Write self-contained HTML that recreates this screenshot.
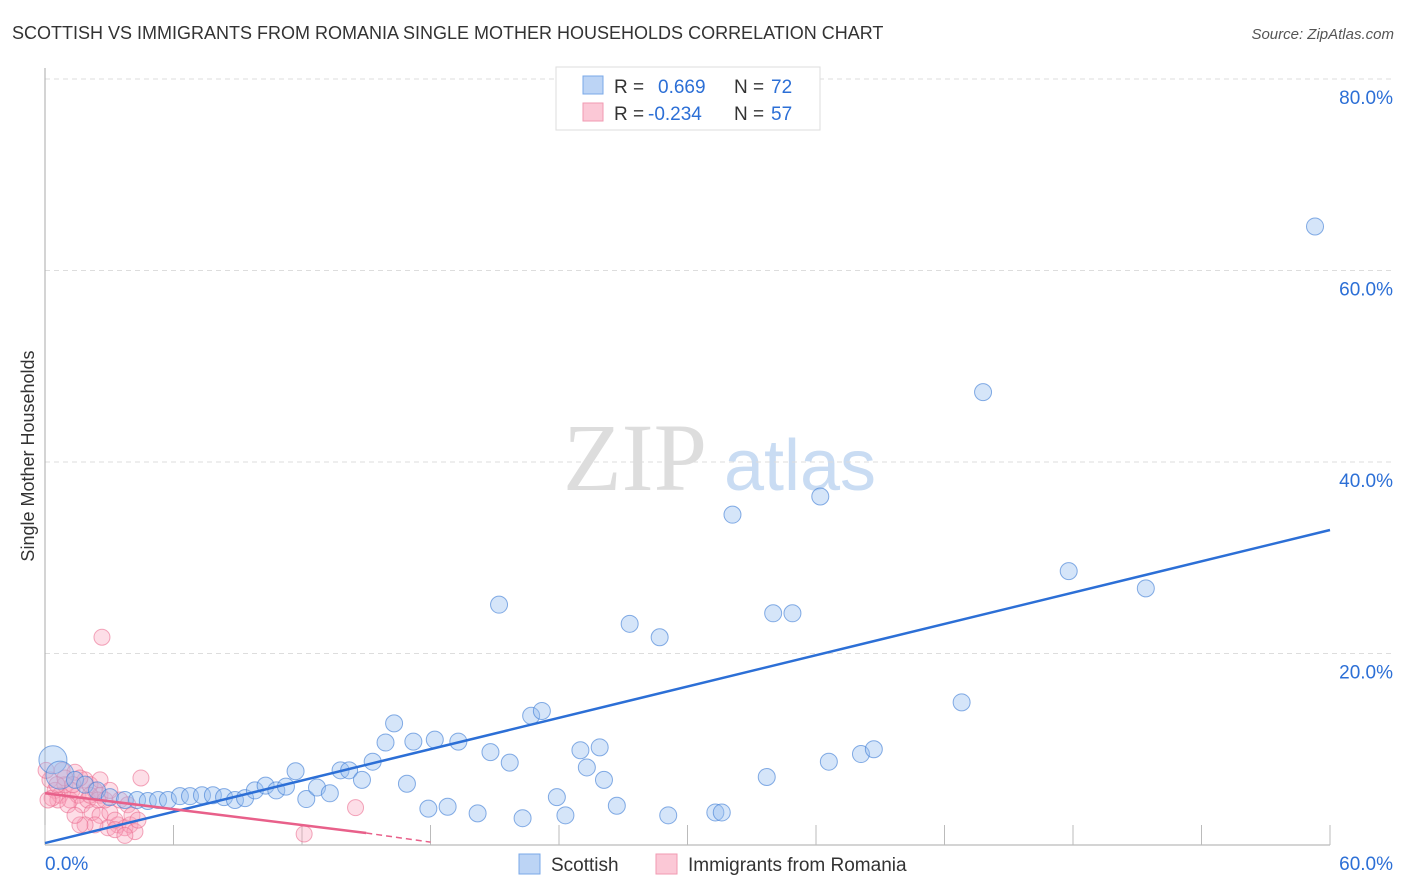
<!DOCTYPE html>
<html><head><meta charset="utf-8"><style>
body{margin:0;background:#fff;font-family:"Liberation Sans",sans-serif;}
#wrap{position:relative;width:1406px;height:892px;overflow:hidden;}
</style></head><body>
<div id="wrap">
<svg id="svg" width="1406" height="892" xmlns="http://www.w3.org/2000/svg">
<text x="12" y="39" font-size="18" fill="#333">SCOTTISH VS IMMIGRANTS FROM ROMANIA SINGLE MOTHER HOUSEHOLDS CORRELATION CHART</text>
<text x="1394" y="39" font-size="15" fill="#555" font-style="italic" text-anchor="end">Source: ZipAtlas.com</text>
<text x="34" y="456" font-size="18" fill="#333" text-anchor="middle" transform="rotate(-90 34 456)">Single Mother Households</text>
<g><text x="635" y="490" font-size="96" fill="#ddd" font-family="Liberation Serif,serif" text-anchor="middle">ZIP</text><text x="800" y="490" font-size="72" fill="#c9dcf3" text-anchor="middle">atlas</text></g>
<g id="grid"></g><g id="axes"></g><g id="marks"></g>
<g>
<rect x="556" y="67" width="264" height="63" fill="#fff" stroke="#ddd"/>
<rect x="583" y="76" width="20" height="18" fill="#bcd4f5" stroke="#7aa8e8"/>
<rect x="583" y="103" width="20" height="18" fill="#fbc8d6" stroke="#f09ab2"/>
<text x="614" y="93" font-size="19" fill="#333">R =</text><text x="658" y="93" font-size="19" fill="#2c6fd6">0.669</text>
<text x="734" y="93" font-size="19" fill="#333">N =</text><text x="771" y="93" font-size="19" fill="#2c6fd6">72</text>
<text x="614" y="120" font-size="19" fill="#333">R =</text><text x="648" y="120" font-size="19" fill="#2c6fd6">-0.234</text>
<text x="734" y="120" font-size="19" fill="#333">N =</text><text x="771" y="120" font-size="19" fill="#2c6fd6">57</text>
</g>
<g>
<rect x="519" y="854" width="21" height="20" fill="#bcd4f5" stroke="#7aa8e8"/>
<text x="551" y="871" font-size="19" fill="#333">Scottish</text>
<rect x="656" y="854" width="21" height="20" fill="#fbc8d6" stroke="#f09ab2"/>
<text x="688" y="871" font-size="19" fill="#333">Immigrants from Romania</text>
</g>
</svg></div>
<script>
const yTicks=[20,40,60,80];
const yTickLabels=["20.0%","40.0%","60.0%","80.0%"];
const xTicks=[0,6,12,18,24,30,36,42,48,54,60];
const scotX=[0.37,0.7,1.4,1.87,2.43,3.03,3.73,4.3,4.8,5.28,5.74,6.3,6.77,7.33,7.84,8.36,8.87,9.34,9.8,10.3,10.8,11.25,11.7,12.2,12.7,13.3,13.8,14.2,14.8,15.3,15.9,16.3,16.9,17.2,17.9,18.2,18.8,19.3,20.2,20.8,21.2,21.7,22.3,22.7,23.2,23.9,24.3,25.0,25.3,25.9,26.1,26.7,27.3,28.7,29.1,31.3,31.6,32.1,33.7,34.0,34.9,36.2,36.6,38.1,38.7,42.8,43.8,47.8,51.4,59.3];
const scotY=[8.9,7.3,6.8,6.3,5.7,5.0,4.7,4.7,4.6,4.7,4.7,5.1,5.1,5.2,5.2,5.0,4.7,4.9,5.7,6.2,5.7,6.1,7.7,4.8,6.0,5.4,7.8,7.8,6.8,8.7,10.7,12.7,6.4,10.8,3.8,11.0,4.0,10.8,3.3,9.7,25.1,8.6,2.8,13.5,14.0,5.0,3.1,9.9,8.1,10.2,6.8,4.1,23.1,21.7,3.1,3.4,3.4,34.5,7.1,24.2,24.2,36.4,8.7,9.5,10.0,14.9,47.3,28.6,26.8,64.6];
const romX=[2.66,4.48,14.5,12.1,0.23,0.47,0.7,0.93,1.17,1.26,1.54,1.73,2.0,2.33,2.57,1.87,2.1,0.8,1.4,2.2,2.57,3.03,3.4,3.73,3.97,4.2,2.94,2.33,1.87,3.27,2.8,1.63,0.6,0.33,1.07,1.4,3.5,3.87,0.93,1.63,2.57,0.05,0.14,0.56,1.3,2.1,2.47,3.03,3.27,3.73,4.06,4.34];
const romY=[21.7,7.0,3.9,1.15,6.8,5.7,5.2,6.3,4.7,5.7,5.2,4.2,4.7,5.7,5.2,6.8,6.3,7.8,7.6,3.4,3.1,3.4,2.1,1.8,2.1,1.4,1.8,2.1,2.1,2.6,4.7,2.1,4.7,4.9,4.2,3.1,4.7,4.2,7.0,7.0,6.8,7.8,4.7,6.3,6.3,5.2,4.7,5.7,1.6,1.0,3.1,2.6];
const scotTrend=[0.2,32.9];
const romTrend=[5.4,1.25,0.3];
const X0=45,X1=1330,Y0=845,Y80=79;
const sx=v=>X0+(X1-X0)*v/60, sy=v=>Y0-(Y0-Y80)*v/80;
const NS="http://www.w3.org/2000/svg";
function mk(tag,at,parent){const e=document.createElementNS(NS,tag);for(const k in at)e.setAttribute(k,at[k]);document.getElementById(parent).appendChild(e);return e;}
yTicks.forEach((t,i)=>{
 const l=mk('line',{x1:X0,x2:1395,y1:sy(t),y2:sy(t),stroke:'#ddd','stroke-dasharray':'5,4'},'grid');
 
 
 const tx=mk('text',{x:1393,y:sy(t)+25,'font-size':19,fill:'#2c6fd6','text-anchor':'end'},'axes');
 tx.textContent=yTickLabels[i];
 
 
});
const ya=mk('line',{x1:X0,x2:X0,y1:68,y2:Y0,stroke:'#aaa'},'axes');


const xa=mk('line',{x1:X0,x2:X1,y1:Y0,y2:Y0,stroke:'#aaa'},'axes');


xTicks.forEach(t=>{
 const l=mk('line',{x1:sx(t),x2:sx(t),y1:Y0-20,y2:Y0,stroke:'#bbb'},'axes');
 
 
});
const xl0=mk('text',{x:45,y:870,'font-size':19,fill:'#2c6fd6'},'axes');xl0.textContent='0.0%';


const xl1=mk('text',{x:1393,y:870,'font-size':19,fill:'#2c6fd6','text-anchor':'end'},'axes');xl1.textContent='60.0%';


romX.forEach((v,i)=>{
 const c=mk('circle',{cx:sx(v),cy:sy(romY[i]),r:8,fill:'rgba(248,160,185,0.35)',stroke:'rgba(235,110,145,0.6)'},'marks');
 
 
});
scotX.forEach((v,i)=>{
 const c=mk('circle',{cx:sx(v),cy:sy(scotY[i]),r:i<2?14:8.5,fill:'rgba(150,190,240,0.4)',stroke:'rgba(70,130,215,0.65)'},'marks');
 
 
});
const bt=mk('line',{x1:sx(0),y1:sy(scotTrend[0]),x2:sx(60),y2:sy(scotTrend[1]),stroke:'#2c6fd6','stroke-width':2.5},'marks');


const pt=mk('line',{x1:sx(0),y1:sy(romTrend[0]),x2:sx(15),y2:sy(romTrend[1]),stroke:'#e8608a','stroke-width':2.5},'marks');


const pd=mk('line',{x1:sx(15),y1:sy(romTrend[1]),x2:sx(18),y2:sy(romTrend[2]),stroke:'#e8608a','stroke-width':1.5,'stroke-dasharray':'6,4'},'marks');


</script>
</body></html>
